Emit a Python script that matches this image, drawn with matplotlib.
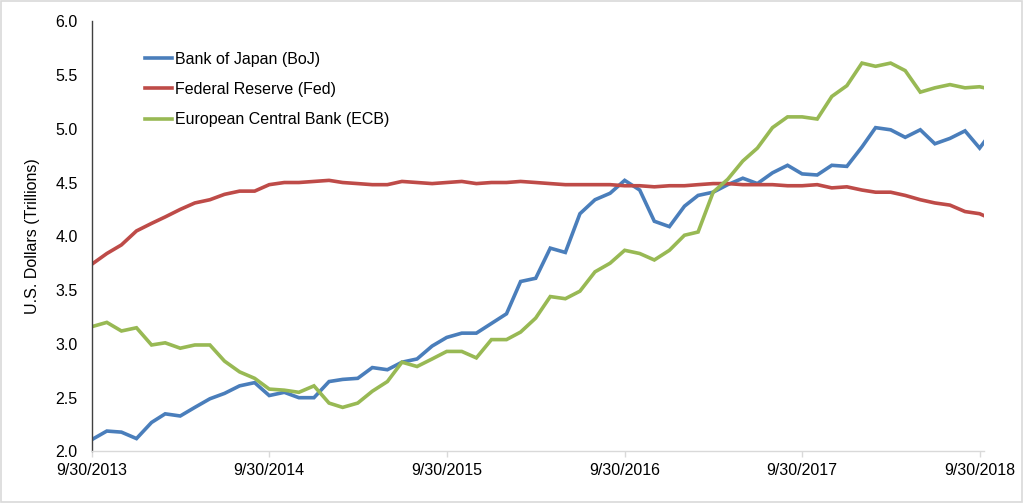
import matplotlib
matplotlib.use("Agg")
import matplotlib.pyplot as plt
import pandas as pd
from matplotlib.patches import Rectangle

plt.rcParams['font.family'] = ['Liberation Sans', 'DejaVu Sans']

# Month-end observations Sep 2013 .. Sep 2018, plus one partial point in Oct 2018
dates = list(pd.date_range('2013-09-30', periods=61, freq='ME')) + [pd.Timestamp('2018-10-10')]

boj = [2.11, 2.19, 2.18, 2.12, 2.27, 2.35, 2.33, 2.41, 2.49, 2.54,
       2.61, 2.64, 2.52, 2.55, 2.50, 2.50, 2.65, 2.67, 2.68, 2.78,
       2.76, 2.83, 2.86, 2.98, 3.06, 3.10, 3.10, 3.19, 3.28, 3.58,
       3.61, 3.89, 3.85, 4.21, 4.34, 4.40, 4.52, 4.43, 4.14, 4.09,
       4.28, 4.38, 4.41, 4.48, 4.54, 4.49, 4.59, 4.66, 4.58, 4.57,
       4.66, 4.65, 4.83, 5.01, 4.99, 4.92, 4.99, 4.86, 4.91, 4.98,
       4.82, 4.88]

fed = [3.74, 3.84, 3.92, 4.05, 4.12, 4.18, 4.25, 4.31, 4.34, 4.39,
       4.42, 4.42, 4.48, 4.50, 4.50, 4.51, 4.52, 4.50, 4.49, 4.48,
       4.48, 4.51, 4.50, 4.49, 4.50, 4.51, 4.49, 4.50, 4.50, 4.51,
       4.50, 4.49, 4.48, 4.48, 4.48, 4.48, 4.47, 4.47, 4.46, 4.47,
       4.47, 4.48, 4.49, 4.49, 4.48, 4.48, 4.48, 4.47, 4.47, 4.48,
       4.45, 4.46, 4.43, 4.41, 4.41, 4.38, 4.34, 4.31, 4.29, 4.23,
       4.21, 4.19]

ecb = [3.16, 3.20, 3.12, 3.15, 2.99, 3.01, 2.96, 2.99, 2.99, 2.84,
       2.74, 2.68, 2.58, 2.57, 2.55, 2.61, 2.45, 2.41, 2.45, 2.56,
       2.65, 2.83, 2.79, 2.86, 2.93, 2.93, 2.87, 3.04, 3.04, 3.11,
       3.24, 3.44, 3.42, 3.49, 3.67, 3.75, 3.87, 3.84, 3.78, 3.87,
       4.01, 4.04, 4.41, 4.53, 4.70, 4.82, 5.01, 5.11, 5.11, 5.09,
       5.30, 5.40, 5.61, 5.58, 5.61, 5.54, 5.34, 5.38, 5.41, 5.38,
       5.39, 5.38]

series_names = ['Bank of Japan (BoJ)', 'Federal Reserve (Fed)', 'European Central Bank (ECB)']
colors = ['#4a7ebb', '#be4b48', '#98b954']

y_ticks = [2.0, 2.5, 3.0, 3.5, 4.0, 4.5, 5.0, 5.5, 6.0]
tick_dates = [pd.Timestamp(f'{y}-09-30') for y in range(2013, 2019)]
tick_labels = [f'9/30/{y}' for y in range(2013, 2019)]

fig = plt.figure(figsize=(10.24, 5.03), dpi=100)
ax = fig.add_axes([0.0896, 0.1024, 0.9614 - 0.0896, 0.958 - 0.1024])

for vals, name, c in zip([boj, fed, ecb], series_names, colors):
    ax.plot(dates, vals, color=c, lw=2.6, label=name, solid_joinstyle='miter')

ax.set_ylim(2.0, 6.0)
ax.set_yticks(y_ticks)
ax.set_yticklabels([f'{v:.1f}' for v in y_ticks])
ax.set_xlim(dates[0], dates[-1])
ax.set_xticks(tick_dates)
ax.set_xticklabels(tick_labels)

for s in ['top', 'right']:
    ax.spines[s].set_visible(False)
ax.spines['left'].set_color('#404040')
ax.spines['left'].set_linewidth(1.0)
ax.spines['bottom'].set_color('#d9d9d9')
ax.spines['bottom'].set_linewidth(1.0)

ax.tick_params(axis='y', length=0, pad=10, labelsize=11.5, colors='#000000')
ax.tick_params(axis='x', length=4, width=1, color='#d9d9d9', pad=4, labelsize=11.5)

ax.set_ylabel('U.S. Dollars (Trillions)', fontsize=11.5, labelpad=11.5)

leg = ax.legend(loc='upper left', bbox_to_anchor=(0.043, 0.962), frameon=False,
                fontsize=11.5, handlelength=1.75, handletextpad=0.15, labelspacing=0.95)

fig.patches.append(Rectangle((0.0005, 0.001), 0.998, 0.997, transform=fig.transFigure,
                             fill=False, edgecolor='#d9d9d9', lw=1.2))

fig.savefig('out.png', dpi=100)
